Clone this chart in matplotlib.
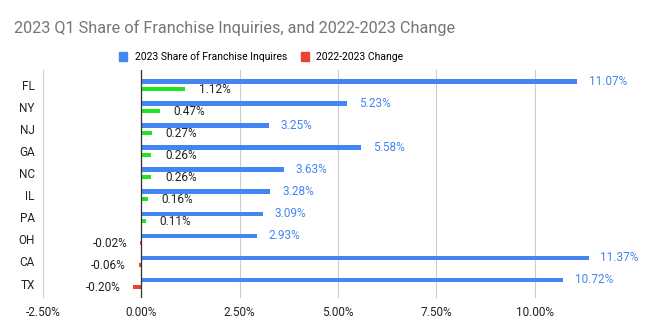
import matplotlib.pyplot as plt
import numpy as np
from matplotlib.patches import Patch

plt.rcParams['font.family'] = ['Roboto', 'DejaVu Sans']

states = ["FL", "NY", "NJ", "GA", "NC", "IL", "PA", "OH", "CA", "TX"]
share = [11.07, 5.23, 3.25, 5.58, 3.63, 3.28, 3.09, 2.93, 11.37, 10.72]
change = [1.12, 0.47, 0.27, 0.26, 0.26, 0.16, 0.11, -0.02, -0.06, -0.20]
xticks = [-2.5, 0, 2.5, 5, 7.5, 10, 12.5]
xtick_labels = ["-2.50%", "0.00%", "2.50%", "5.00%", "7.50%", "10.00%", ""]

blue = "#4285F4"
red = "#EA4335"
green = "#1EE61E"

fig = plt.figure(figsize=(6.5, 3.33), dpi=100)
ax = fig.add_axes([0.066, 0.105, 0.908, 0.685])

y = np.arange(len(states))
ax.barh(y - 0.16, share, height=0.22, color=blue, zorder=3)
chg_colors = [green if c > 0 else red for c in change]
ax.barh(y + 0.16, change, height=0.18, color=chg_colors, zorder=3)

for yi, v in zip(y, share):
    ax.text(v + 0.3, yi - 0.16, f"{v:.2f}%", color=blue, fontsize=8.5,
            va="center", ha="left")
for yi, v in zip(y, change):
    if v >= 0:
        ax.text(v + 0.35, yi + 0.2, f"{v:.2f}%", color="#222222", fontsize=8.5,
                va="center", ha="left")
    else:
        ax.text(v - 0.33, yi + 0.2, f"{v:.2f}%", color="#222222", fontsize=8.5,
                va="center", ha="right")

ax.set_xlim(-2.5, 12.5)
ax.set_ylim(9.66, -0.7)
ax.set_xticks(xticks)
ax.set_xticklabels(xtick_labels, fontsize=8.5, color="#222222")
ax.set_yticks(y)
ax.set_yticklabels(states, fontsize=8.5, color="#222222")
ax.tick_params(length=0, pad=6)
ax.grid(axis="x", color="#cccccc", linewidth=0.8, zorder=0)
ax.axvline(0, color="#333333", linewidth=0.9, zorder=4)
for s in ax.spines.values():
    s.set_visible(False)

fig.text(0.021, 0.915, "2023 Q1 Share of Franchise Inquiries, and 2022-2023 Change",
         fontsize=11.7, color="#757575", ha="left", va="center")
handles = [Patch(color=blue, label="2023 Share of Franchise Inquires"),
           Patch(color=red, label="2022-2023 Change")]
fig.legend(handles=handles, loc="center", bbox_to_anchor=(0.402, 0.83), ncol=2,
           frameon=False, fontsize=7.5, handlelength=0.8, handleheight=1.0,
           columnspacing=1.3, handletextpad=0.7)

fig.savefig("out.png", dpi=100)
